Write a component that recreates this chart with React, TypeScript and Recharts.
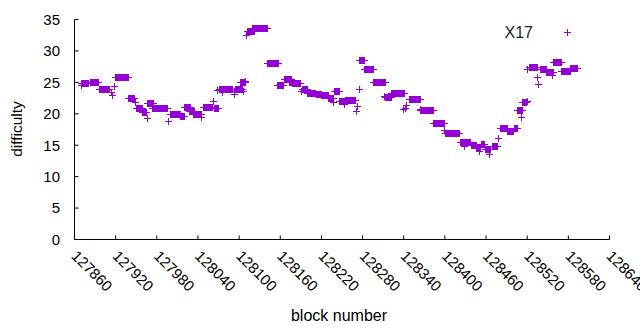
import { Label, Legend, Scatter, ScatterChart, XAxis, YAxis } from "recharts";

// runs of consecutive blocks sharing one difficulty
const runStart = [
  127870, 127882, 127895, 127919, 127938, 127950, 127958, 127966, 127973, 127999,
  128014, 128020, 128027, 128033, 128047, 128063, 128070, 128094, 128101, 128111,
  128119, 128141, 128157, 128166, 128172, 128177, 128191, 128199, 128212, 128220,
  128230, 128238, 128245, 128254, 128275, 128282, 128295, 128313, 128322, 128347,
  128363, 128383, 128400, 128422, 128438, 128445, 128452, 128458, 128468, 128480,
  128491, 128501, 128506, 128512, 128522, 128539, 128547, 128558, 128570, 128582,
];
const runEnd = [
  127880, 127894, 127911, 127938, 127947, 127958, 127964, 127974, 127995, 128014,
  128020, 128028, 128034, 128045, 128060, 128069, 128089, 128104, 128109, 128121,
  128140, 128157, 128164, 128175, 128180, 128189, 128199, 128211, 128220, 128230,
  128237, 128245, 128254, 128269, 128282, 128295, 128313, 128322, 128340, 128363,
  128382, 128398, 128421, 128437, 128446, 128451, 128457, 128466, 128476, 128491,
  128500, 128505, 128512, 128518, 128535, 128548, 128558, 128569, 128582, 128592,
];
const runValue = [
  24.9, 25.0, 24.0, 25.9, 22.5, 21.0, 20.3, 21.75, 21.0, 20.0,
  19.6, 21.15, 20.5, 20.0, 21.1, 21.0, 24.0, 24.0, 25.0, 33.25,
  33.7, 28.1, 24.65, 25.5, 25.1, 24.9, 23.95, 23.3, 23.2, 23.0,
  22.5, 23.65, 22.05, 22.25, 28.5, 27.15, 25.0, 22.7, 23.35, 22.35,
  20.6, 18.5, 17.0, 15.5, 15.0, 14.7, 15.2, 14.4, 14.85, 17.8,
  17.3, 17.8, 20.6, 21.8, 27.4, 27.15, 26.7, 28.25, 26.8, 27.25,
];

// single blocks off the runs
const pointBlock = [
  127869, 127913, 127914, 127917, 127948, 127965, 127997, 128045, 128062, 128068,
  128075, 128092, 128093, 128105, 128109, 128110, 128155, 128190, 128237, 128253,
  128270, 128272, 128275, 128311, 128339, 128342, 128343, 128363, 128398, 128428,
  128450, 128465, 128477, 128505, 128511, 128519, 128520, 128535, 128536, 128556,
];
const pointValue = [
  24.55, 23.45, 23.05, 24.4, 21.95, 19.35, 18.85, 19.55, 22.0, 23.8,
  23.45, 23.7, 23.15, 23.55, 25.2, 32.6, 24.65, 23.7, 21.85, 21.6,
  20.5, 21.2, 24.0, 22.75, 20.7, 21.0, 21.45, 20.7, 17.45, 14.8,
  14.15, 13.6, 16.1, 20.65, 19.45, 22.1, 27.15, 25.8, 24.75, 26.1,
];

const xTicks = [
  127860, 127920, 127980, 128040, 128100, 128160, 128220, 128280, 128340, 128400,
  128460, 128520, 128580, 128640,
];
const yTicks = [0, 5, 10, 15, 20, 25, 30, 35];

const data: { block: number; difficulty: number }[] = [];
runStart.forEach((start, i) => {
  for (let b = start; b <= runEnd[i]; b++) data.push({ block: b, difficulty: runValue[i] });
});
pointBlock.forEach((b, i) => data.push({ block: b, difficulty: pointValue[i] }));

const PURPLE = "#9400d3";
const FONT = "'Liberation Sans', Arial, sans-serif";

function Plus({ cx, cy }: any) {
  const x = Math.round(cx) + 0.5;
  const y = Math.round(cy) + 0.5;
  return (
    <path
      d={`M${x - 3.5},${y}H${x + 3.5}M${x},${y - 3.5}V${y + 3.5}`}
      stroke={PURPLE}
      strokeWidth={1}
      fill="none"
    />
  );
}

function XTick({ x, payload }: any) {
  const tx = x + 4;
  const ty = 249;
  return (
    <text
      x={tx}
      y={ty}
      transform={`rotate(45, ${tx}, ${ty})`}
      textAnchor="start"
      dominantBaseline="hanging"
      fontSize={15}
      fontFamily={FONT}
      fill="#000"
    >
      {payload.value}
    </text>
  );
}

function YTick({ y, payload }: any) {
  return (
    <text x={60} y={y} dy="0.36em" textAnchor="end" fontSize={15} fontFamily={FONT} fill="#000">
      {payload.value}
    </text>
  );
}

function LegendBox() {
  return (
    <svg width={640} height={50} style={{ position: "absolute", left: 0, top: 0 }}>
      <text x={533} y={32} dy="0.36em" textAnchor="end" fontSize={16} fontFamily={FONT} fill="#222">
        X17
      </text>
      <path d="M564,32.5H571M567.5,29V36" stroke={PURPLE} strokeWidth={1} />
    </svg>
  );
}

export default function App() {
  const line = { stroke: "#000", strokeWidth: 1 };
  return (
    <div style={{ position: "absolute", left: 0, top: 0, background: "#fff" }}>
      <ScatterChart
        width={640}
        height={330}
        margin={{ top: 19.5, right: 30.5, bottom: 60.5, left: 14.5 }}
      >
        <XAxis
          xAxisId="b"
          dataKey="block"
          type="number"
          domain={[127860, 128640]}
          ticks={xTicks}
          interval={0}
          height={30}
          axisLine={line}
          tickLine={line}
          tickSize={-4}
          tick={<XTick />}
        >
          <Label
            content={() => (
              <text x={339} y={321} textAnchor="middle" fontSize={16} fontFamily={FONT} fill="#000">
                block number
              </text>
            )}
          />
        </XAxis>
        <XAxis
          xAxisId="t"
          orientation="top"
          type="number"
          domain={[127860, 128640]}
          ticks={xTicks}
          interval={0}
          height={0}
          axisLine={line}
          tickLine={line}
          tickSize={-4}
          tick={false}
        />
        <YAxis
          yAxisId="l"
          dataKey="difficulty"
          type="number"
          domain={[0, 35]}
          ticks={yTicks}
          interval={0}
          width={60}
          axisLine={line}
          tickLine={line}
          tickSize={-4}
          tick={<YTick />}
        >
          <Label
            content={() => (
              <text
                x={16}
                y={129}
                transform="rotate(-90, 16, 129)"
                textAnchor="middle"
                dominantBaseline="central"
                fontSize={15.5}
                fontFamily={FONT}
                fill="#000"
              >
                difficulty
              </text>
            )}
          />
        </YAxis>
        <YAxis
          yAxisId="r"
          orientation="right"
          type="number"
          domain={[0, 35]}
          ticks={yTicks}
          interval={0}
          width={0}
          axisLine={line}
          tickLine={line}
          tickSize={-4}
          tick={false}
        />
        <Legend
          content={() => <LegendBox />}
          wrapperStyle={{ position: "absolute", left: 0, top: 0, width: 0, height: 0 }}
        />
        <Scatter
          name="X17"
          data={data}
          xAxisId="b"
          yAxisId="l"
          shape={<Plus />}
          isAnimationActive={false}
        />
      </ScatterChart>
    </div>
  );
}
